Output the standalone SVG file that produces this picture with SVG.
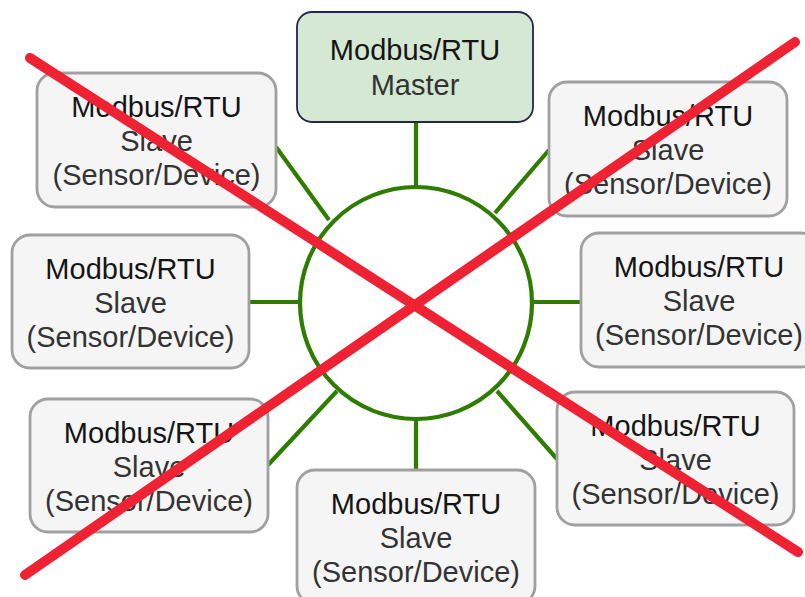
<svg xmlns="http://www.w3.org/2000/svg" width="805" height="597" viewBox="0 0 805 597">
<style>
.slave{fill:#f5f5f5;stroke:#a0a0a0;stroke-width:2.8}
.master{fill:#d5e8d4;stroke:#23264f;stroke-width:1.8}
.t{font-family:"Liberation Sans",Arial,sans-serif;font-size:29px;text-anchor:middle;fill:#333}
.t .a{fill:#151515}
.link{stroke:#2f7d00;stroke-width:4.2;fill:none}
.cross{stroke:#ee2233;stroke-width:10;stroke-linecap:round}
</style>
<rect width="805" height="597" fill="#ffffff"/>
<g id="connectors">
<circle class="link" cx="416" cy="303" r="116"/>
<line class="link" x1="416" y1="122" x2="416" y2="187"/>
<line class="link" x1="276" y1="147" x2="329" y2="220"/>
<line class="link" x1="549" y1="150" x2="495" y2="213"/>
<line class="link" x1="249" y1="302" x2="300" y2="302"/>
<line class="link" x1="532" y1="302" x2="581" y2="302"/>
<line class="link" x1="268" y1="465" x2="337" y2="391"/>
<line class="link" x1="497" y1="391" x2="557" y2="459"/>
<line class="link" x1="416" y1="419" x2="416" y2="470"/>
</g>
<g id="master">
<rect class="master" x="297" y="12" width="236" height="110" rx="15"/>
<text class="t"><tspan class="a" x="415" y="60">Modbus/RTU</tspan><tspan x="415" y="95">Master</tspan></text>
</g>
<g id="slave-tl">
<rect class="slave" x="37" y="73" width="239" height="134" rx="18"/>
<text class="t"><tspan class="a" x="156.5" y="117">Modbus/RTU</tspan><tspan x="156.5" y="151">Slave</tspan><tspan x="156.5" y="185">(Sensor/Device)</tspan></text>
</g>
<g id="slave-tr">
<rect class="slave" x="549" y="82" width="238" height="134" rx="18"/>
<text class="t"><tspan class="a" x="668" y="126">Modbus/RTU</tspan><tspan x="668" y="160">Slave</tspan><tspan x="668" y="194">(Sensor/Device)</tspan></text>
</g>
<g id="slave-ml">
<rect class="slave" x="12" y="235" width="237" height="133" rx="18"/>
<text class="t"><tspan class="a" x="130.5" y="279">Modbus/RTU</tspan><tspan x="130.5" y="313">Slave</tspan><tspan x="130.5" y="347">(Sensor/Device)</tspan></text>
</g>
<g id="slave-mr">
<rect class="slave" x="581" y="233" width="238" height="134" rx="18"/>
<text class="t"><tspan class="a" x="699" y="277">Modbus/RTU</tspan><tspan x="699" y="311">Slave</tspan><tspan x="699" y="345">(Sensor/Device)</tspan></text>
</g>
<g id="slave-bl">
<rect class="slave" x="30" y="399" width="238" height="133" rx="18"/>
<text class="t"><tspan class="a" x="149" y="443">Modbus/RTU</tspan><tspan x="149" y="477">Slave</tspan><tspan x="149" y="511">(Sensor/Device)</tspan></text>
</g>
<g id="slave-bc">
<rect class="slave" x="297" y="470" width="238" height="134" rx="18"/>
<text class="t"><tspan class="a" x="416" y="514">Modbus/RTU</tspan><tspan x="416" y="548">Slave</tspan><tspan x="416" y="582">(Sensor/Device)</tspan></text>
</g>
<g id="slave-br">
<rect class="slave" x="557" y="392" width="237" height="133" rx="18"/>
<text class="t"><tspan class="a" x="675.5" y="436">Modbus/RTU</tspan><tspan x="675.5" y="470">Slave</tspan><tspan x="675.5" y="504">(Sensor/Device)</tspan></text>
</g>
<g id="cross">
<line class="cross" x1="30" y1="58" x2="798" y2="552"/>
<line class="cross" x1="795" y1="42" x2="25" y2="575"/>
</g>
</svg>
